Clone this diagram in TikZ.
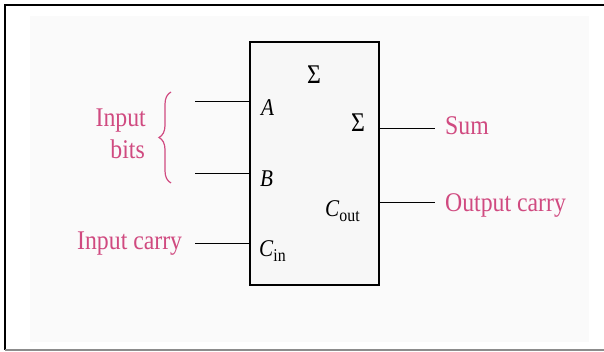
\documentclass[tikz,border=0pt]{standalone}
\usepackage{fontspec}
\setmainfont{Liberation Serif}
\newfontfamily\labfont[FakeStretch=0.88]{Liberation Serif}
\usetikzlibrary{decorations.pathreplacing}

\definecolor{labelpink}{RGB}{208,74,128}
\newcommand{\lowsub}[1]{\raisebox{-0.45ex}{\fontsize{18}{18}\selectfont #1}}

\begin{document}
\begin{tikzpicture}[x=1pt,y=1pt,
  lab/.style={text=labelpink,inner sep=0pt,font=\labfont\fontsize{27}{32}\selectfont},
  pin/.style={inner sep=0pt,font=\labfont\fontsize{24}{24}\selectfont},
  sigma/.style={inner sep=0pt,font=\labfont\fontsize{27}{27}\selectfont},
  wire/.style={line width=1.2pt}]
\useasboundingbox (0,0) rectangle (604,352);
\fill[black!2] (30,10) rectangle (589,336);
\draw[line width=2pt] (5,2) -- (5,347) -- (604,347);
\draw[line width=2pt,black!45] (5,2) -- (604,2);
% full adder block
\node[draw,line width=2.5pt,fill=black!3,minimum width=129,minimum height=243,inner sep=0pt] (fa) at (314.5,188.5) {};
\node[sigma,anchor=base west] (sg) at (307,268.7) {Σ};
\node[pin,anchor=base west] (pa) at (261,236) {\textit{A}};
\node[pin,anchor=base west] (pb) at (260,165.3) {\textit{B}};
\node[pin,anchor=base west] (pc) at (259,95.3) {\textit{C}\lowsub{in}};
\node[sigma,anchor=base west] (ps) at (351,220.3) {Σ};
\node[pin,anchor=base west] (po) at (325,135.3) {\textit{C}\lowsub{out}};
% wires
\coordinate (ia) at (195,250.3);
\coordinate (ib) at (195,178.3);
\coordinate (ic) at (195,108.3);
\coordinate (os) at (435,223.3);
\coordinate (oc) at (435,149.3);
\draw[wire] (ia) -- (ia -| fa.west);
\draw[wire] (ib) -- (ib -| fa.west);
\draw[wire] (ic) -- (ic -| fa.west);
\draw[wire] (os -| fa.east) -- (os);
\draw[wire] (oc -| fa.east) -- (oc);
% labels
\node[lab,anchor=base west] (sum) at (445,217) {Sum};
\node[lab,anchor=base west] (carry) at (445,140.3) {Output carry};
\node[lab,anchor=base west] (cin) at (77,102) {Input carry};
\node[lab,anchor=base east] (in1) at (146,225) {Input};
\node[lab,anchor=base east] (in2) at (145,193.7) {bits};
\draw[labelpink,line width=1.2pt,decorate,decoration={brace,amplitude=12pt}]
  (171,169) -- (171,260);
\end{tikzpicture}
\end{document}
